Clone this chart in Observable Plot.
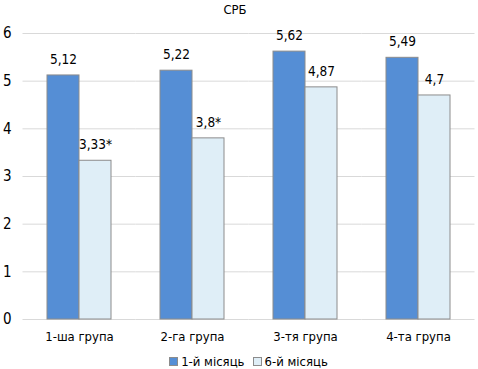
<!DOCTYPE html>
<html>
<head>
<meta charset="utf-8">
<script src="https://cdn.jsdelivr.net/npm/d3@7"></script>
<script src="https://cdn.jsdelivr.net/npm/@observablehq/plot@0.6"></script>
<style>
  body { margin: 0; background: #fff; font-family: "Liberation Sans Narrow", "DejaVu Sans Condensed", sans-serif; }
  #wrap { position: relative; width: 478px; height: 369px; overflow: hidden; }
  #title { position: absolute; left: 0; top: 2px; width: 470px; text-align: center; font-size: 13px; color: #000; line-height: 16px; }
  #chart { position: absolute; left: 0; top: 20px; }
  #legend { position: absolute; left: 0; top: 355px; width: 497px; text-align: center; font-size: 13px; line-height: 13px; color: #000; white-space: nowrap; }
  .item { display: inline-block; margin: 0 4px; }
  .sw { display: inline-block; width: 7px; height: 7px; border: 1px solid #8c8c8c; margin-right: 3px; vertical-align: 0px; }
</style>
</head>
<body>
<div id="wrap">
  <div id="title"></div>
  <div id="chart"></div>
  <div id="legend"></div>
</div>
<script>
const title = "СРБ";
const groups = ["1-ша група", "2-га група", "3-тя група", "4-та група"];
const series = ["1-й місяць", "6-й місяць"];
const month1 = [5.12, 5.22, 5.62, 5.49];
const month6 = [3.33, 3.8, 4.87, 4.7];
const labels1 = ["5,12", "5,22", "5,62", "5,49"];
const labels6 = ["3,33*", "3,8*", "4,87", "4,7"];
const yTicks = [0, 1, 2, 3, 4, 5, 6];
const colors = ["#558ed5", "#dfeef7"];

const data = groups.flatMap((g, i) => [
  {group: g, series: series[0], value: month1[i], label: labels1[i]},
  {group: g, series: series[1], value: month6[i], label: labels6[i]}
]);

const font = '"Liberation Sans Narrow", "DejaVu Sans Condensed", sans-serif';

const chart = Plot.plot({
  width: 478,
  height: 330,
  marginLeft: 22,
  marginRight: 3,
  marginTop: 13,
  marginBottom: 31,
  style: {fontFamily: font, color: "#000", background: "transparent"},
  fx: {domain: groups, paddingInner: 0.43, paddingOuter: 0.21, label: null, axis: null},
  x: {domain: series, padding: 0, axis: null},
  y: {domain: [0, 6], ticks: yTicks, label: null, axis: null},
  color: {domain: series, range: colors},
  marks: [
    Plot.ruleY(yTicks, {stroke: "#d9d9d9", strokeWidth: 1, insetLeft: -24.5, insetRight: -24.5}),
    Plot.axisY(yTicks, {anchor: "left", tickSize: 0, tickPadding: 36, fontSize: 15, label: null, tickFormat: d => String(d)}),
    Plot.axisFx({anchor: "bottom", tickSize: 0, tickPadding: 12, fontSize: 13, label: null}),
    Plot.barY(data, {fx: "group", x: "series", y: "value", fill: "series", stroke: "#8c8c8c", strokeWidth: 1}),
    Plot.text(data, {fx: "group", x: "series", y: "value", text: "label", dy: -16, fontSize: 13.5, fill: "#000"})
  ]
});
document.getElementById("chart").appendChild(chart);
document.getElementById("title").textContent = title;
document.getElementById("legend").innerHTML = series.map((s, i) =>
  `<span class="item"><span class="sw" style="background:${colors[i]}"></span>${s}</span>`).join("");
</script>
</body>
</html>
